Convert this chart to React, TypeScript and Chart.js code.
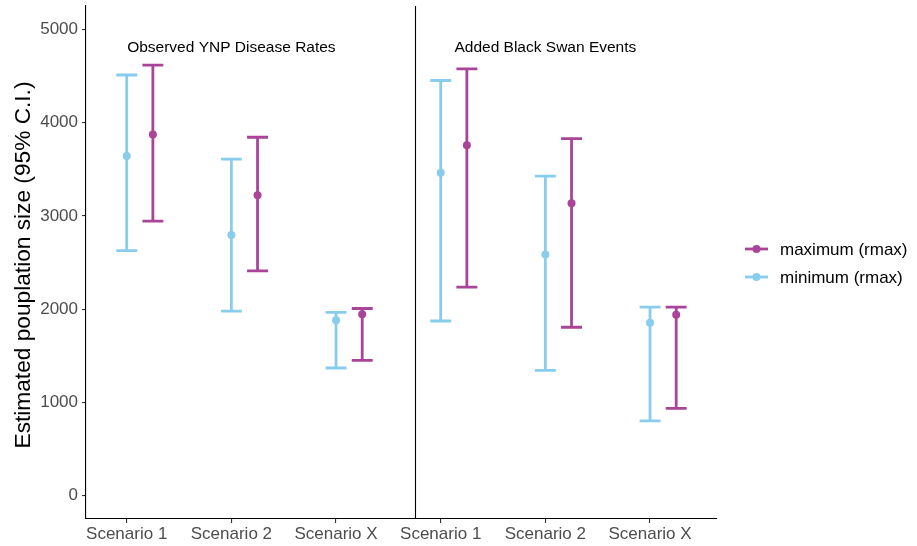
import React, { useEffect, useRef } from "react";
import { Chart, registerables } from "chart.js";

Chart.register(...registerables);

const categories = ["Scenario 1", "Scenario 2", "Scenario X", "Scenario 1", "Scenario 2", "Scenario X"];
const panelLabels = ["Observed YNP Disease Rates", "Added Black Swan Events"];
const panelLabelCategory = [2, 5];
const panelLabelValue = 4800;
const dividerPosition = 3.75;

const seriesNames = ["maximum (rmax)", "minimum (rmax)"];
const seriesColors = ["#AA4499", "#88CCEE"];
const seriesOffsets = [0.25, 0];

const maxEstimate = [3873, 3220, 1944, 3757, 3134, 1940];
const maxLower = [2944, 2410, 1451, 2235, 1806, 935];
const maxUpper = [4616, 3843, 2007, 4575, 3828, 2022];

const minEstimate = [3642, 2795, 1881, 3463, 2586, 1854];
const minLower = [2627, 1978, 1369, 1873, 1343, 802];
const minUpper = [4510, 3608, 1966, 4451, 3425, 2022];

const yTicks = [0, 1000, 2000, 3000, 4000, 5000];
const yTitle = "Estimated pouplation size (95% C.I.)";

const estimates = [maxEstimate, minEstimate];
const lowers = [maxLower, minLower];
const uppers = [maxUpper, minUpper];

const FONT = "'Liberation Sans', Arial, sans-serif";
const CAP_HALF = 0.1;
const LINE_W = 2.8;

export default function App() {
  const ref = useRef<HTMLCanvasElement | null>(null);

  useEffect(() => {
    const canvas = ref.current;
    if (!canvas) return;

    const overlay = {
      id: "overlay",
      beforeDatasetsDraw(chart: any) {
        const ctx = chart.ctx;
        const xs = chart.scales.x;
        const ys = chart.scales.y;
        const area = chart.chartArea;
        ctx.save();
        ctx.strokeStyle = "#000";
        ctx.lineWidth = 1.1;
        const dx = Math.round(xs.getPixelForValue(dividerPosition)) + 0.5;
        ctx.beginPath();
        ctx.moveTo(dx, area.top);
        ctx.lineTo(dx, area.bottom);
        ctx.stroke();
        for (let s = 0; s < 2; s++) {
          ctx.strokeStyle = seriesColors[s];
          ctx.lineWidth = LINE_W;
          ctx.lineCap = "butt";
          for (let i = 0; i < categories.length; i++) {
            const xv = i + 1 + seriesOffsets[s];
            const x = xs.getPixelForValue(xv);
            const xl = xs.getPixelForValue(xv - CAP_HALF);
            const xr = xs.getPixelForValue(xv + CAP_HALF);
            const yl = ys.getPixelForValue(lowers[s][i]);
            const yu = ys.getPixelForValue(uppers[s][i]);
            ctx.beginPath();
            ctx.moveTo(x, yl);
            ctx.lineTo(x, yu);
            ctx.moveTo(xl, yl);
            ctx.lineTo(xr, yl);
            ctx.moveTo(xl, yu);
            ctx.lineTo(xr, yu);
            ctx.stroke();
          }
        }
        ctx.restore();
      },
      afterDraw(chart: any) {
        const ctx = chart.ctx;
        const xs = chart.scales.x;
        const ys = chart.scales.y;
        ctx.save();
        ctx.fillStyle = "#000";
        ctx.font = `15.5px ${FONT}`;
        ctx.textAlign = "center";
        ctx.textBaseline = "middle";
        for (let p = 0; p < panelLabels.length; p++) {
          ctx.fillText(
            panelLabels[p],
            xs.getPixelForValue(panelLabelCategory[p]),
            ys.getPixelForValue(panelLabelValue)
          );
        }
        ctx.save();
        ctx.translate(23.5, 265);
        ctx.rotate(-Math.PI / 2);
        ctx.font = `22.7px ${FONT}`;
        ctx.fillStyle = "#000";
        ctx.textAlign = "center";
        ctx.textBaseline = "middle";
        ctx.fillText(yTitle, 0, 0);
        ctx.restore();
        const rows = [249, 277];
        for (let s = 0; s < 2; s++) {
          const y = rows[s];
          ctx.strokeStyle = seriesColors[s];
          ctx.lineWidth = LINE_W;
          ctx.beginPath();
          ctx.moveTo(745, y);
          ctx.lineTo(768, y);
          ctx.stroke();
          ctx.fillStyle = seriesColors[s];
          ctx.beginPath();
          ctx.arc(756.5, y, 4, 0, Math.PI * 2);
          ctx.fill();
          ctx.fillStyle = "#000";
          ctx.font = `17px ${FONT}`;
          ctx.textAlign = "left";
          ctx.textBaseline = "middle";
          ctx.fillText(seriesNames[s], 780, y + 1);
        }
        ctx.restore();
      },
    };

    const datasets = [0, 1].map((s) => ({
      label: seriesNames[s],
      data: estimates[s].map((v, i) => ({ x: i + 1 + seriesOffsets[s], y: v })),
      showLine: false,
      pointRadius: 4,
      pointHoverRadius: 4,
      pointBorderWidth: 0,
      pointBackgroundColor: seriesColors[s],
      backgroundColor: seriesColors[s],
      borderColor: seriesColors[s],
    }));

    const chart = new Chart(canvas, {
      type: "scatter",
      data: { datasets },
      options: {
        responsive: false,
        animation: false,
        events: [],
        layout: { padding: { top: 6, right: 200.3, left: 0, bottom: 0 } },
        plugins: {
          legend: { display: false },
          tooltip: { enabled: false },
          title: { display: false },
        },
        scales: {
          x: {
            type: "linear",
            min: 0.611,
            max: 6.637,
            afterBuildTicks: (scale: any) => {
              scale.ticks = categories.map((_, i) => ({ value: i + 1 }));
            },
            afterFit: (scale: any) => {
              scale.height = 27;
              scale.paddingLeft = 0;
              scale.paddingRight = 0;
            },
            ticks: {
              autoSkip: false,
              maxRotation: 0,
              padding: 1,
              color: "#4D4D4D",
              font: { size: 17, family: FONT },
              callback: (v: any) => categories[Math.round(Number(v)) - 1] ?? "",
            },
            grid: {
              display: true,
              drawOnChartArea: false,
              drawTicks: true,
              tickLength: 4,
              color: "#333333",
              lineWidth: 1.1,
            },
            border: { display: true, color: "#000", width: 1.1 },
          },
          y: {
            type: "linear",
            min: -250,
            max: 5250,
            afterBuildTicks: (scale: any) => {
              scale.ticks = yTicks.map((v) => ({ value: v }));
            },
            afterFit: (scale: any) => {
              scale.width = 86;
              scale.paddingTop = 0;
              scale.paddingBottom = 0;
            },
            ticks: {
              padding: 4,
              color: "#4D4D4D",
              font: { size: 17, family: FONT },
              callback: (v: any) => String(v),
            },
            grid: {
              display: true,
              drawOnChartArea: false,
              drawTicks: true,
              tickLength: 4,
              color: "#333333",
              lineWidth: 1.1,
            },
            border: { display: true, color: "#000", width: 1.1 },
          },
        },
      },
      plugins: [overlay],
    } as any);

    return () => chart.destroy();
  }, []);

  return (
    <div style={{ position: "fixed", left: 0, top: 0, width: 917, height: 546, background: "#fff" }}>
      <canvas ref={ref} width={917} height={546} style={{ display: "block", width: 917, height: 546 }} />
    </div>
  );
}
